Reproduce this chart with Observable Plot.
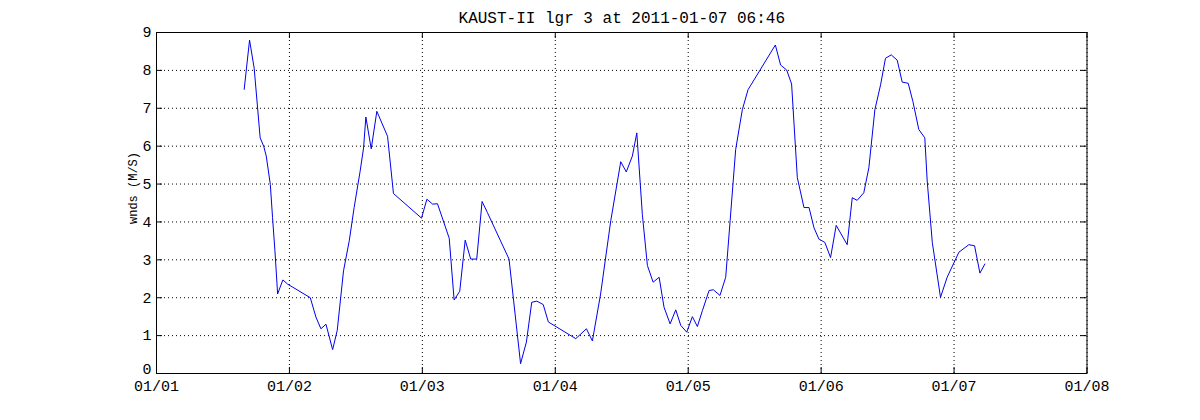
<!DOCTYPE html>
<html>
<head>
<meta charset="utf-8">
<script src="https://cdn.jsdelivr.net/npm/d3@7"></script>
<script src="https://cdn.jsdelivr.net/npm/@observablehq/plot@0.6"></script>
<style>
  html, body { margin: 0; padding: 0; background: #fff; }
  svg { display: block; }
</style>
</head>
<body>
<div id="chart"></div>
<script>
const title = "KAUST-II lgr 3 at 2011-01-07 06:46";
const yLabel = "wnds (M/S)";

const times = [
  "2011-01-01T15:50","2011-01-01T16:48","2011-01-01T17:38","2011-01-01T18:43","2011-01-01T19:21",
  "2011-01-01T19:49","2011-01-01T20:33","2011-01-01T20:57","2011-01-01T21:23","2011-01-01T21:52",
  "2011-01-01T22:49","2011-01-01T23:40","2011-01-02T03:46","2011-01-02T04:47","2011-01-02T05:41",
  "2011-01-02T06:36","2011-01-02T07:48","2011-01-02T08:38","2011-01-02T09:46","2011-01-02T10:48",
  "2011-01-02T11:41","2011-01-02T12:46","2011-01-02T13:23","2011-01-02T13:48","2011-01-02T14:46",
  "2011-01-02T15:47","2011-01-02T17:43","2011-01-02T18:47","2011-01-02T23:51","2011-01-03T00:49",
  "2011-01-03T01:51","2011-01-03T02:44","2011-01-03T04:51","2011-01-03T05:44","2011-01-03T06:45",
  "2011-01-03T07:44","2011-01-03T08:44","2011-01-03T09:49","2011-01-03T10:47","2011-01-03T11:44",
  "2011-01-03T15:39","2011-01-03T17:44","2011-01-03T18:47","2011-01-03T19:45","2011-01-03T20:40",
  "2011-01-03T21:49","2011-01-03T22:45","2011-01-04T03:42","2011-01-04T05:37","2011-01-04T06:42",
  "2011-01-04T08:11","2011-01-04T10:01","2011-01-04T11:49","2011-01-04T12:49","2011-01-04T13:55",
  "2011-01-04T14:43","2011-01-04T15:43","2011-01-04T16:38","2011-01-04T17:40","2011-01-04T18:45",
  "2011-01-04T19:38","2011-01-04T20:44","2011-01-04T21:45","2011-01-04T22:39","2011-01-04T23:44",
  "2011-01-05T00:45","2011-01-05T01:39","2011-01-05T02:34","2011-01-05T03:46","2011-01-05T04:32",
  "2011-01-05T05:44","2011-01-05T06:46","2011-01-05T07:34","2011-01-05T08:34","2011-01-05T09:46",
  "2011-01-05T10:48","2011-01-05T15:44","2011-01-05T16:41","2011-01-05T17:47","2011-01-05T18:40",
  "2011-01-05T19:42","2011-01-05T20:54","2011-01-05T21:49","2011-01-05T22:42","2011-01-05T23:35",
  "2011-01-06T00:40","2011-01-06T01:42","2011-01-06T02:43","2011-01-06T04:42","2011-01-06T05:37",
  "2011-01-06T06:30","2011-01-06T07:42","2011-01-06T08:37","2011-01-06T09:42","2011-01-06T10:44",
  "2011-01-06T11:37","2011-01-06T12:39","2011-01-06T13:44","2011-01-06T14:38","2011-01-06T15:43",
  "2011-01-06T16:34","2011-01-06T17:38","2011-01-06T18:43","2011-01-06T19:09","2011-01-06T20:04",
  "2011-01-06T21:33","2011-01-06T22:45","2011-01-07T00:52","2011-01-07T02:40","2011-01-07T03:42",
  "2011-01-07T04:40","2011-01-07T05:34"
];

const wnds = [
  7.50, 8.80, 8.06, 6.22, 6.00,
  5.74, 4.99, 4.12, 3.24, 2.10,
  2.47, 2.36, 2.00, 1.49, 1.18,
  1.30, 0.63, 1.14, 2.71, 3.50,
  4.38, 5.34, 5.95, 6.77, 5.93,
  6.92, 6.26, 4.75, 4.10, 4.60,
  4.47, 4.48, 3.57, 1.94, 2.17,
  3.52, 3.02, 3.02, 4.54, 4.25,
  3.02, 0.26, 0.83, 1.88, 1.91,
  1.82, 1.36, 0.92, 1.18, 0.86,
  2.10, 4.03, 5.59, 5.32, 5.74,
  6.35, 4.20, 2.85, 2.41, 2.54,
  1.75, 1.31, 1.68, 1.27, 1.09,
  1.50, 1.24, 1.66, 2.19, 2.21,
  2.06, 2.54, 4.03, 5.91, 6.96,
  7.49, 8.67, 8.14, 8.01, 7.64,
  5.17, 4.38, 4.38, 3.85, 3.55,
  3.46, 3.06, 3.91, 3.40, 4.64,
  4.57, 4.77, 5.43, 6.96, 7.62,
  8.32, 8.41, 8.27, 7.69, 7.66,
  7.18, 6.44, 6.22, 5.08, 3.46,
  2.01, 2.54, 3.20, 3.40, 3.37,
  2.65, 2.89
];

const xTickDates = ["2011-01-01","2011-01-02","2011-01-03","2011-01-04","2011-01-05","2011-01-06","2011-01-07","2011-01-08"];
const xTickLabels = ["01/01","01/02","01/03","01/04","01/05","01/06","01/07","01/08"];
const yTicks = [0, 1, 2, 3, 4, 5, 6, 7, 8, 9];

const parse = s => new Date(s + (s.length > 10 ? ":00Z" : "T00:00:00Z"));
const data = times.map((t, i) => ({time: parse(t), value: wnds[i]}));
const xTicks = xTickDates.map(parse);
const labelOf = new Map(xTicks.map((d, i) => [+d, xTickLabels[i]]));

const W = 1200, H = 420;
const mL = 156, mR = 113.5, mT = 32, mB = 47;
const fh = H - mT - mB, fw = W - mL - mR;
const tl = 6;
const font = "'Liberation Mono', 'DejaVu Sans Mono', monospace";
const fs = 15;

const chart = Plot.plot({
  width: W,
  height: H,
  marginLeft: mL,
  marginRight: mR,
  marginTop: mT,
  marginBottom: mB,
  style: {fontFamily: font, fontSize: fs + "px", color: "black", background: "white"},
  x: {type: "utc", domain: [xTicks[0], xTicks[xTicks.length - 1]]},
  y: {domain: [0, 9]},
  marks: [
    Plot.gridX(xTicks, {stroke: "black", strokeOpacity: 1, strokeDasharray: "1,3"}),
    Plot.gridY(yTicks, {stroke: "black", strokeOpacity: 1, strokeDasharray: "1,3"}),
    Plot.tickX(xTicks, {x: d => d, insetTop: fh - tl, stroke: "black"}),
    Plot.tickX(xTicks, {x: d => d, insetBottom: fh - tl, stroke: "black"}),
    Plot.tickY(yTicks, {y: d => d, insetRight: fw - tl, stroke: "black"}),
    Plot.tickY(yTicks, {y: d => d, insetLeft: fw - tl, stroke: "black"}),
    Plot.axisX(xTicks, {tickSize: 0, tickPadding: 7, tickFormat: d => labelOf.get(+d), label: null, fontSize: fs}),
    Plot.axisY(yTicks.slice(1), {tickSize: 0, tickPadding: 5, label: null, fontSize: fs}),
    Plot.axisY(yTicks.slice(0, 1), {tickSize: 0, tickPadding: 5, label: null, fontSize: fs, dy: -4}),
    Plot.frame({stroke: "black"}),
    Plot.line(data, {x: "time", y: "value", stroke: "#0000ee", strokeWidth: 1}),
    Plot.text([title], {frameAnchor: "top", dy: -15, lineAnchor: "middle", fontSize: 16, fill: "black"}),
    Plot.text([yLabel], {frameAnchor: "left", dx: -23, dy: -15, rotate: -90, textAnchor: "middle", lineAnchor: "middle", fontSize: 12, fill: "black"})
  ]
});
document.getElementById("chart").appendChild(chart);
</script>
</body>
</html>
